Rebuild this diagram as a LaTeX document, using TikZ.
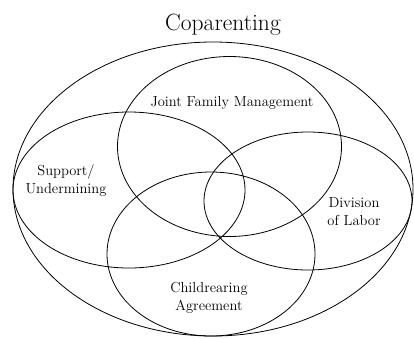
\documentclass[tikz,border=0pt]{standalone}
\begin{document}
\begin{tikzpicture}[x=1pt,y=-1pt,
  ring/.style={draw=black,line width=0.8pt},
  lab/.style={font=\fontsize{14.5}{18}\selectfont,align=center,inner sep=0pt},
  ttl/.style={font=\fontsize{23.5}{26}\selectfont,inner sep=0pt}]
\useasboundingbox (0,0) rectangle (414,338);
% outer ellipse
\draw[ring] (213,189) ellipse [x radius=200, y radius=147];
% joint family management
\draw[ring] (229.5,146.5) ellipse [x radius=112, y radius=90];
% support/undermining
\draw[ring] (129,190) ellipse [x radius=116, y radius=78];
% division of labor
\draw[ring] (308,201) ellipse [x radius=104, y radius=69];
% childrearing agreement
\draw[ring] (211,254) ellipse [x radius=104, y radius=82];
\node[ttl] (title) at (223,25) {Coparenting};
\node[lab] (jfm) at (232,103) {Joint Family Management};
\node[lab] (su) at (66,181) {Support/\\Undermining};
\node[lab] (dol) at (354,212) {Division\\of Labor};
\node[lab] (ca) at (209,298) {Childrearing\\Agreement};
\end{tikzpicture}
\end{document}
